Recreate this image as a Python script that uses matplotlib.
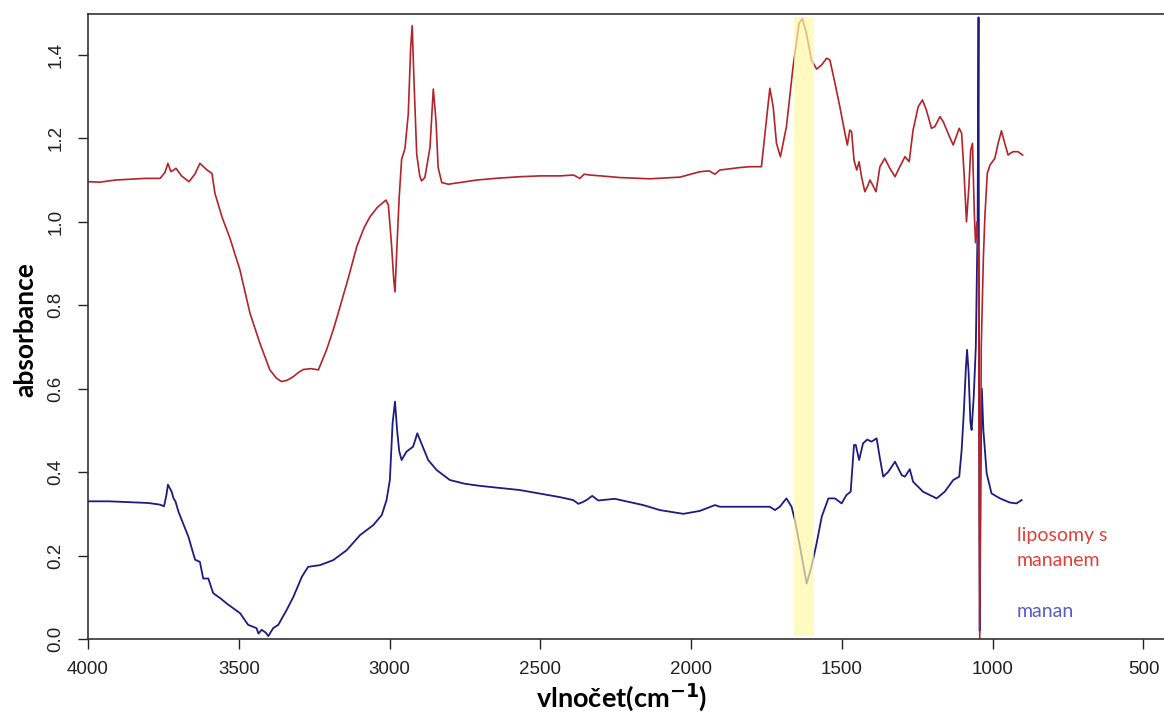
import numpy as np
import matplotlib.pyplot as plt

# wavenumbers (cm-1) and absorbance
wn_lip = [4000, 3960, 3910, 3861, 3811, 3761, 3745, 3735, 3725, 3708, 3690, 3665, 3645, 3629, 3605, 3589,
          3579, 3555, 3529, 3496, 3463, 3430, 3397, 3375, 3358, 3340, 3319, 3300, 3286, 3260, 3236, 3209,
          3185, 3164, 3135, 3109, 3085, 3065, 3040, 3012, 3004, 2994, 2986, 2982, 2975, 2968, 2960, 2949,
          2938, 2930, 2925, 2919, 2910, 2900, 2894, 2883, 2866, 2855, 2846, 2839, 2827, 2805, 2767, 2711,
          2650, 2568, 2500, 2435, 2390, 2369, 2355, 2336, 2300, 2236, 2137, 2037, 1971, 1940, 1931, 1921,
          1905, 1838, 1805, 1767, 1755, 1739, 1728, 1717, 1704, 1684, 1662, 1642, 1631, 1618, 1601, 1584,
          1567, 1551, 1540, 1523, 1507, 1490, 1482, 1474, 1468, 1460, 1451, 1443, 1435, 1424, 1415, 1407,
          1398, 1387, 1374, 1358, 1341, 1324, 1308, 1291, 1277, 1264, 1247, 1233, 1220, 1203, 1192, 1175,
          1164, 1148, 1131, 1111, 1103, 1095, 1087, 1079, 1073, 1067, 1061, 1057, 1052, 1047, 1043, 1038,
          1031, 1026, 1018, 1009, 993, 982, 971, 960, 949, 940, 932, 916, 901]
abs_lip = [1.096, 1.095, 1.100, 1.102, 1.104, 1.104, 1.118, 1.140, 1.120, 1.128, 1.110, 1.096, 1.115, 1.140, 1.124, 1.116,
           1.068, 1.010, 0.960, 0.884, 0.781, 0.709, 0.645, 0.625, 0.617, 0.620, 0.629, 0.640, 0.646, 0.648, 0.645, 0.693,
           0.745, 0.797, 0.870, 0.940, 0.985, 1.012, 1.035, 1.052, 1.040, 0.950, 0.860, 0.832, 0.950, 1.060, 1.150, 1.175,
           1.258, 1.418, 1.470, 1.338, 1.162, 1.110, 1.098, 1.106, 1.178, 1.318, 1.242, 1.130, 1.094, 1.090, 1.094, 1.100,
           1.104, 1.108, 1.110, 1.110, 1.112, 1.104, 1.114, 1.112, 1.110, 1.106, 1.103, 1.107, 1.120, 1.122, 1.118, 1.114,
           1.124, 1.130, 1.132, 1.132, 1.212, 1.320, 1.276, 1.188, 1.156, 1.228, 1.372, 1.476, 1.487, 1.452, 1.388, 1.366,
           1.376, 1.392, 1.388, 1.332, 1.276, 1.212, 1.184, 1.220, 1.216, 1.148, 1.124, 1.144, 1.108, 1.072, 1.085, 1.100,
           1.088, 1.072, 1.132, 1.152, 1.128, 1.108, 1.132, 1.156, 1.144, 1.220, 1.276, 1.292, 1.268, 1.224, 1.228, 1.252,
           1.240, 1.212, 1.184, 1.224, 1.212, 1.116, 1.000, 1.084, 1.172, 1.188, 1.020, 0.950, 1.000, 0.900, 0.000, 0.700,
           0.912, 1.012, 1.116, 1.136, 1.152, 1.188, 1.218, 1.188, 1.160, 1.165, 1.168, 1.168, 1.160]

wn_man = [4000, 3930, 3861, 3800, 3761, 3748, 3740, 3735, 3728, 3722, 3717, 3710, 3700, 3689, 3667, 3645,
          3629, 3618, 3601, 3585, 3560, 3540, 3496, 3469, 3455, 3441, 3435, 3424, 3410, 3402, 3386, 3369,
          3341, 3319, 3291, 3270, 3231, 3187, 3142, 3098, 3054, 3026, 3010, 2999, 2990, 2982, 2975, 2968,
          2960, 2944, 2922, 2908, 2899, 2872, 2844, 2800, 2750, 2700, 2568, 2435, 2391, 2374, 2360, 2347,
          2328, 2308, 2253, 2159, 2104, 2026, 1971, 1921, 1905, 1827, 1739, 1722, 1706, 1684, 1667, 1656,
          1639, 1617, 1601, 1584, 1567, 1545, 1523, 1501, 1485, 1471, 1460, 1454, 1443, 1430, 1416, 1402,
          1385, 1374, 1363, 1346, 1324, 1302, 1291, 1275, 1264, 1231, 1186, 1159, 1131, 1111, 1103, 1096,
          1089, 1085, 1080, 1074, 1070, 1063, 1056, 1050, 1047, 1045, 1043, 1040, 1036, 1031, 1020, 1004,
          976, 943, 921, 904]
abs_man = [0.330, 0.330, 0.328, 0.326, 0.322, 0.318, 0.345, 0.370, 0.360, 0.352, 0.338, 0.330, 0.305, 0.285, 0.245, 0.190,
           0.185, 0.145, 0.145, 0.110, 0.097, 0.085, 0.062, 0.034, 0.030, 0.026, 0.013, 0.022, 0.015, 0.007, 0.026, 0.034,
           0.070, 0.101, 0.149, 0.173, 0.177, 0.189, 0.213, 0.249, 0.273, 0.297, 0.333, 0.381, 0.517, 0.569, 0.501, 0.450,
           0.429, 0.449, 0.461, 0.493, 0.477, 0.429, 0.405, 0.381, 0.372, 0.367, 0.357, 0.340, 0.333, 0.324, 0.328, 0.333,
           0.343, 0.332, 0.336, 0.321, 0.309, 0.300, 0.307, 0.321, 0.317, 0.317, 0.317, 0.309, 0.317, 0.337, 0.317, 0.285,
           0.221, 0.133, 0.173, 0.229, 0.293, 0.337, 0.337, 0.325, 0.345, 0.353, 0.465, 0.465, 0.429, 0.469, 0.478, 0.473,
           0.481, 0.433, 0.389, 0.401, 0.425, 0.393, 0.389, 0.407, 0.377, 0.353, 0.337, 0.353, 0.381, 0.389, 0.453, 0.541,
           0.650, 0.693, 0.640, 0.520, 0.501, 0.580, 0.700, 1.000, 1.490, 0.500, 0.020, 0.400, 0.600, 0.501, 0.397, 0.349,
           0.337, 0.327, 0.325, 0.333]

band = (1658, 1592)   # highlighted amide region
xticks = [4000, 3500, 3000, 2500, 2000, 1500, 1000, 500]
yticks = [0.0, 0.2, 0.4, 0.6, 0.8, 1.0, 1.2, 1.4]

plt.rcParams['font.family'] = ['Liberation Sans', 'DejaVu Sans']

fig = plt.figure(figsize=(11.64, 7.15), dpi=100)
ax = fig.add_axes([88 / 1164, 76 / 715, 1 - 88 / 1164, 625 / 715])

ax.plot(wn_man, abs_man, color='#1c1c82', lw=1.3)
ax.plot(wn_lip, abs_lip, color='#b3232a', lw=1.2)
ax.axvspan(band[1], band[0], ymin=0.005, ymax=0.995, color='#fff7a8', alpha=0.7, lw=0, zorder=3)

ax.set_xlim(4000, 432)
ax.set_ylim(0, 1.498)
ax.set_xticks(xticks)
ax.set_yticks(yticks)
ax.set_yticklabels([f'{v:.1f}' for v in yticks], rotation=90, va='center')
ax.tick_params(length=7, width=1, color='#222222', labelsize=13.5, labelcolor='#222222')
ax.tick_params(axis='x', pad=9)
ax.tick_params(axis='y', pad=10)
for s in ax.spines.values():
    s.set_color('#333333')
    s.set_linewidth(1.2)
ax.spines['right'].set_visible(False)

fig.text(622 / 1164, 1 - 697 / 715, 'vlnočet(cm$^{\\mathbf{-1}}$)', ha='center', va='center',
         fontsize=19.5, fontweight='bold', family=['Lato', 'DejaVu Sans'])
fig.text(25 / 1164, 1 - 330 / 715, 'absorbance', ha='center', va='center', rotation=90,
         fontsize=19, fontweight='bold', family=['Lato', 'DejaVu Sans'])

lab_font = dict(fontsize=14, family=['Lato', 'DejaVu Sans'], ha='left', va='center')
ax.text(920, 0.247, 'liposomy s', color='#e0403a', **lab_font)
ax.text(920, 0.189, 'mananem', color='#e0403a', **lab_font)
ax.text(920, 0.067, 'manan', color='#5a5ac8', **lab_font)

fig.savefig('out.png', dpi=100)
